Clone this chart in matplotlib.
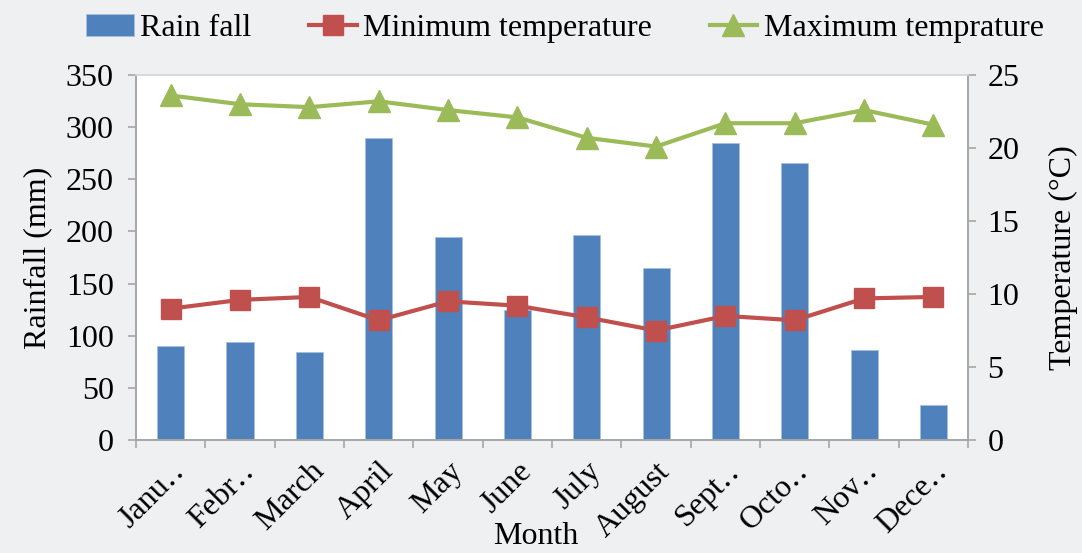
import numpy as np
import matplotlib.pyplot as plt

plt.rcParams['font.family'] = ['Liberation Serif', 'DejaVu Serif']

months = ['Janu‥', 'Febr‥', 'March', 'April', 'May', 'June', 'July',
          'August', 'Sept‥', 'Octo‥', 'Nov‥', 'Dece‥']
rainfall = [90, 94, 84, 290, 195, 125, 197, 165, 285, 266, 86, 34]
min_temp = [9.0, 9.6, 9.8, 8.2, 9.5, 9.2, 8.4, 7.5, 8.5, 8.2, 9.7, 9.8]
max_temp = [23.6, 23.0, 22.8, 23.2, 22.6, 22.1, 20.7, 20.1, 21.7, 21.7, 22.6, 21.6]

blue = '#4F81BD'
red = '#C0504D'
green = '#9BBB59'
grey = '#A6A6A6'
fs = 23

fig = plt.figure(figsize=(10.82, 5.53), dpi=100, facecolor='#EFF0F2')
ax = fig.add_axes([0.1257, 0.2043, 0.769, 0.66])
ax.set_facecolor('white')
x = np.arange(len(months))

bars = ax.bar(x, rainfall, width=0.39, color=blue, edgecolor='#A7C0DE', linewidth=0.6,
              label='Rain fall', zorder=2)
ax.set_xlim(-0.5, len(months) - 0.5)
ax.set_ylim(0, 350)
ax.set_yticks(range(0, 351, 50))
ax.set_xticks(x)
ax.set_xticklabels(months, rotation=45, ha='right', rotation_mode='anchor', fontsize=fs)
ax.set_xticks(np.arange(-0.5, len(months)), minor=True)
ax.tick_params(axis='x', which='major', length=0, pad=12)
ax.tick_params(axis='x', which='minor', length=6, color=grey, width=1.2)
ax.tick_params(axis='y', labelsize=fs, length=6, color=grey, width=1.2, pad=10)
ax.set_ylabel('Rainfall (mm)', fontsize=fs, labelpad=10)
ax.set_xlabel('Month', fontsize=fs)
ax.xaxis.set_label_coords(0.48, -0.225)

ax2 = ax.twinx()
l1, = ax2.plot(x, min_temp, color=red, lw=3, marker='s', markersize=14, label='Minimum temperature', zorder=3)
l2, = ax2.plot(x, max_temp, color=green, lw=3, marker='^', markersize=16, label='Maximum temprature', zorder=3)
ax2.set_ylim(0, 25)
ax2.set_yticks(range(0, 26, 5))
ax2.tick_params(axis='y', labelsize=fs, length=6, color=grey, width=1.2, pad=8)
ax2.set_ylabel('Temperature (°C)', fontsize=fs, labelpad=21)

for a in (ax, ax2):
    for s in a.spines.values():
        s.set_color(grey)
        s.set_linewidth(1.2)
    a.spines['top'].set_color('#D9D9D9')

fig.legend([bars, l1, l2], ['Rain fall', 'Minimum temperature', 'Maximum temprature'],
           loc='center', bbox_to_anchor=(0.522, 0.948), ncol=3, frameon=False,
           fontsize=fs, handlelength=1.5, handletextpad=0.2, columnspacing=1.8)

fig.savefig('out.png', dpi=100, facecolor=fig.get_facecolor())
